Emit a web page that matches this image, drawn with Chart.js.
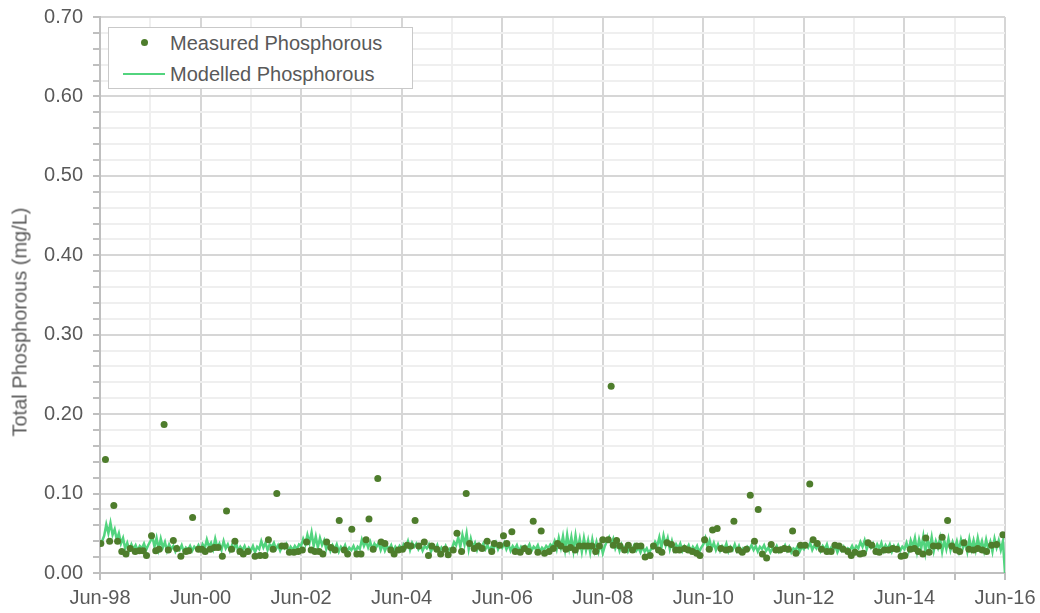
<!DOCTYPE html>
<html>
<head>
<meta charset="utf-8">
<script src="https://cdn.jsdelivr.net/npm/chart.js@4.4.1/dist/chart.umd.min.js"></script>
<style>
  body { margin: 0; background: #fff; font-family: "Liberation Sans", Arial, sans-serif; }
  #wrap { position: relative; width: 1040px; height: 613px; }
  #yTitle {
    position: absolute; left: 20px; top: 322px; color: #595959; font-size: 20px;
    transform: translate(-50%, -50%) rotate(-90deg); white-space: nowrap;
  }
  #legend {
    position: absolute; left: 108px; top: 27px; width: 303px; height: 60px;
    border: 1px solid #c9c9c9; background: #fff; color: #595959; font-size: 20px;
  }
  #legend .row { position: absolute; left: 0; height: 24px; line-height: 24px; }
  #legend .txt { position: absolute; left: 61px; white-space: nowrap; }
  #legend .dot { position: absolute; left: 32px; top: 8px; width: 7px; height: 7px; border-radius: 50%; }
  #legend .line { position: absolute; left: 14px; top: 11px; width: 42px; height: 2px; }
</style>
</head>
<body>
<div id="wrap">
  <canvas id="chart" width="1040" height="613"></canvas>
  <div id="yTitle">Total Phosphorous (mg/L)</div>
  <div id="legend"></div>
</div>
<script>
// months since Jun-98
const measuredMonth = [
  0.2, 1.3, 2.3, 3.3, 4.2, 5.2, 6.2, 7.2, 8.4, 9.4, 10.3, 11.1, 12.3, 13.3, 14.1, 15.3, 16.3, 17.5, 18.3, 19.3,
  20.5, 21.2, 22.1, 23.5, 24.3, 25.1, 26.3, 27.3, 28.2, 29.2, 30.2, 31.4, 32.2, 33.4, 34.2, 35.3, 37.0, 38.2, 39.4, 40.2,
  41.3, 42.2, 43.4, 44.2, 45.2, 46.3, 47.3, 48.3, 49.3, 50.4, 51.3, 52.3, 53.2, 54.1, 55.1, 56.1, 57.1, 58.3, 59.1, 60.1,
  61.3, 62.3, 63.5, 64.2, 65.2, 66.3, 67.1, 68.0, 69.4, 70.2, 71.2, 72.2, 73.3, 74.2, 75.2, 76.1, 77.4, 78.4, 79.2, 80.4,
  81.3, 82.4, 83.1, 84.3, 85.2, 86.3, 87.4, 88.2, 89.3, 90.3, 91.2, 92.4, 93.5, 94.1, 95.4, 96.3, 97.1, 98.3, 99.1, 100.3,
  101.3, 102.3, 103.4, 104.5, 105.3, 106.1, 107.2, 108.2, 109.2, 110.0, 111.2, 112.3, 113.4, 114.4, 115.5, 116.4, 117.4, 118.3, 119.2, 120.0,
  121.3, 122.0, 122.5, 123.3, 124.1, 125.2, 126.1, 127.1, 128.1, 129.1, 130.1, 131.3, 132.1, 133.3, 134.1, 135.3, 136.4, 137.4, 138.3, 139.5,
  140.4, 141.4, 142.4, 143.2, 144.3, 145.4, 146.2, 147.3, 148.2, 149.4, 150.3, 151.3, 152.4, 153.3, 154.3, 155.2, 156.2, 157.1, 158.1, 159.1,
  160.2, 161.3, 162.3, 163.3, 164.3, 165.3, 166.1, 167.2, 168.3, 169.4, 170.2, 171.2, 172.2, 173.5, 174.5, 175.4, 176.4, 177.4, 178.5, 179.3,
  180.2, 181.4, 182.2, 183.3, 184.2, 185.2, 186.0, 187.2, 188.2, 189.2, 190.2, 191.2, 192.1, 193.4, 194.4, 195.3, 196.4, 197.1, 197.9, 198.9,
  200.1, 201.0, 202.3, 203.3, 204.3, 205.2, 206.2, 207.4, 208.5, 209.5, 210.6, 211.6, 212.8, 214.0, 215.5
];
const measuredValue = [
  0.037, 0.143, 0.040, 0.085, 0.040, 0.027, 0.024, 0.031, 0.027, 0.028, 0.028, 0.022, 0.047, 0.028, 0.030, 0.187, 0.029, 0.041, 0.031, 0.021,
  0.027, 0.028, 0.070, 0.030, 0.030, 0.027, 0.030, 0.032, 0.032, 0.021, 0.078, 0.030, 0.040, 0.027, 0.024, 0.027, 0.021, 0.022, 0.022, 0.042,
  0.030, 0.100, 0.034, 0.034, 0.026, 0.026, 0.027, 0.029, 0.039, 0.029, 0.027, 0.027, 0.024, 0.039, 0.032, 0.029, 0.066, 0.029, 0.024, 0.055,
  0.024, 0.024, 0.042, 0.068, 0.030, 0.119, 0.039, 0.037, 0.029, 0.024, 0.029, 0.030, 0.035, 0.034, 0.066, 0.034, 0.039, 0.022, 0.034, 0.030,
  0.024, 0.030, 0.023, 0.029, 0.050, 0.027, 0.100, 0.037, 0.031, 0.034, 0.031, 0.040, 0.027, 0.037, 0.035, 0.047, 0.037, 0.052, 0.027, 0.026,
  0.031, 0.027, 0.065, 0.026, 0.053, 0.025, 0.027, 0.031, 0.037, 0.034, 0.030, 0.032, 0.029, 0.034, 0.034, 0.034, 0.034, 0.027, 0.034, 0.042,
  0.042, 0.235, 0.035, 0.041, 0.034, 0.029, 0.035, 0.029, 0.034, 0.034, 0.020, 0.022, 0.034, 0.029, 0.026, 0.038, 0.036, 0.029, 0.029, 0.031,
  0.029, 0.027, 0.025, 0.022, 0.042, 0.030, 0.054, 0.056, 0.031, 0.029, 0.030, 0.065, 0.029, 0.026, 0.030, 0.098, 0.040, 0.080, 0.024, 0.019,
  0.036, 0.029, 0.029, 0.031, 0.030, 0.053, 0.025, 0.035, 0.035, 0.112, 0.042, 0.037, 0.030, 0.027, 0.027, 0.035, 0.034, 0.030, 0.027, 0.022,
  0.026, 0.024, 0.025, 0.038, 0.035, 0.027, 0.026, 0.029, 0.029, 0.031, 0.030, 0.021, 0.022, 0.030, 0.031, 0.027, 0.024, 0.044, 0.026, 0.034,
  0.034, 0.045, 0.066, 0.034, 0.029, 0.027, 0.038, 0.030, 0.029, 0.031, 0.029, 0.027, 0.035, 0.036, 0.048
];

// modelled series, one value every half month from Jun-98 (one row per year)
const modelledStepMonths = 0.5;
const modelledValue = [
  0.036,0.040,0.047,0.061,0.050,0.063,0.048,0.055,0.042,0.050,0.037,0.044,0.031,0.038,0.029,0.036,0.030,0.035,0.028,0.034,0.031,0.037,0.029,0.035,
  0.040,0.046,0.033,0.044,0.030,0.043,0.032,0.039,0.028,0.036,0.030,0.034,0.027,0.033,0.029,0.035,0.027,0.032,0.029,0.034,0.028,0.033,0.030,0.035,
  0.029,0.036,0.031,0.042,0.033,0.038,0.030,0.043,0.032,0.037,0.029,0.040,0.031,0.036,0.028,0.035,0.030,0.038,0.027,0.033,0.029,0.034,0.027,0.032,
  0.028,0.034,0.026,0.033,0.030,0.040,0.032,0.038,0.029,0.036,0.033,0.038,0.030,0.035,0.028,0.034,0.031,0.036,0.027,0.033,0.029,0.034,0.030,0.036,
  0.034,0.043,0.036,0.048,0.038,0.051,0.034,0.046,0.032,0.044,0.035,0.041,0.030,0.038,0.028,0.035,0.030,0.036,0.027,0.033,0.029,0.035,0.027,0.032,
  0.029,0.034,0.027,0.033,0.030,0.042,0.034,0.040,0.032,0.039,0.030,0.037,0.033,0.038,0.029,0.036,0.028,0.034,0.030,0.035,0.027,0.033,0.029,0.034,
  0.030,0.036,0.032,0.040,0.029,0.038,0.033,0.037,0.030,0.035,0.028,0.034,0.031,0.036,0.027,0.033,0.029,0.035,0.026,0.032,0.028,0.034,0.027,0.031,
  0.031,0.039,0.035,0.045,0.033,0.048,0.036,0.050,0.030,0.043,0.032,0.038,0.029,0.036,0.031,0.037,0.030,0.035,0.028,0.034,0.031,0.038,0.030,0.036,
  0.032,0.038,0.030,0.036,0.028,0.034,0.030,0.035,0.027,0.033,0.029,0.034,0.031,0.036,0.028,0.033,0.030,0.035,0.027,0.032,0.029,0.034,0.031,0.036,
  0.033,0.040,0.030,0.044,0.032,0.046,0.029,0.048,0.031,0.045,0.028,0.047,0.030,0.043,0.027,0.044,0.029,0.041,0.026,0.042,0.028,0.039,0.027,0.038,
  0.025,0.034,0.040,0.045,0.036,0.043,0.031,0.038,0.028,0.036,0.030,0.034,0.027,0.033,0.029,0.035,0.028,0.032,0.026,0.033,0.027,0.031,0.025,0.030,
  0.031,0.039,0.034,0.045,0.032,0.047,0.035,0.044,0.030,0.040,0.029,0.036,0.031,0.037,0.028,0.034,0.030,0.035,0.027,0.033,0.029,0.034,0.026,0.032,
  0.036,0.044,0.033,0.041,0.031,0.038,0.029,0.036,0.028,0.034,0.030,0.037,0.027,0.033,0.029,0.036,0.028,0.034,0.026,0.031,0.028,0.033,0.030,0.035,
  0.029,0.034,0.027,0.033,0.030,0.035,0.028,0.032,0.026,0.031,0.029,0.034,0.027,0.032,0.030,0.035,0.028,0.033,0.026,0.031,0.029,0.034,0.027,0.033,
  0.030,0.036,0.032,0.038,0.029,0.035,0.031,0.037,0.028,0.034,0.030,0.036,0.027,0.032,0.029,0.034,0.026,0.032,0.028,0.033,0.027,0.031,0.029,0.034,
  0.028,0.034,0.031,0.039,0.033,0.041,0.030,0.038,0.032,0.037,0.029,0.036,0.031,0.038,0.028,0.035,0.030,0.036,0.027,0.034,0.029,0.035,0.028,0.033,
  0.030,0.038,0.028,0.041,0.033,0.044,0.027,0.042,0.031,0.046,0.026,0.043,0.030,0.045,0.028,0.040,0.032,0.044,0.027,0.041,0.030,0.043,0.029,0.039,
  0.031,0.040,0.028,0.042,0.032,0.039,0.027,0.043,0.030,0.041,0.029,0.044,0.031,0.040,0.028,0.042,0.030,0.039,0.027,0.043,0.032,0.041,0.029,0.040,
  0.000
];

const xTickLabels = ['Jun-98', 'Jun-00', 'Jun-02', 'Jun-04', 'Jun-06', 'Jun-08', 'Jun-10', 'Jun-12', 'Jun-14', 'Jun-16'];
const seriesNames = ['Measured Phosphorous', 'Modelled Phosphorous'];
const seriesColors = ['#4e7d2c', '#52d47e'];

const measuredPoints = measuredMonth.map((m, i) => ({ x: m, y: measuredValue[i] }));
const modelledPoints = modelledValue.map((v, i) => ({ x: i * modelledStepMonths, y: v }));

const isMajorY = v => Math.abs(v * 10 - Math.round(v * 10)) < 1e-6;
const isMajorX = v => Math.round(v) % 24 === 0;
const tickFont = { family: '"Liberation Sans", Arial, sans-serif', size: 20 };

const ctx = document.getElementById('chart').getContext('2d');
new Chart(ctx, {
  type: 'scatter',
  data: {
    datasets: [
      {
        label: seriesNames[0],
        data: measuredPoints,
        backgroundColor: seriesColors[0],
        borderColor: seriesColors[0],
        pointRadius: 3.5,
        pointBorderWidth: 0
      },
      {
        label: seriesNames[1],
        data: modelledPoints,
        showLine: true,
        borderColor: seriesColors[1],
        borderWidth: 2.5,
        pointRadius: 0,
        tension: 0
      }
    ]
  },
  options: {
    responsive: false,
    animation: false,
    layout: { padding: { top: 17, right: 35, bottom: 0, left: 0 } },
    plugins: {
      legend: { display: false },
      tooltip: { enabled: false }
    },
    scales: {
      x: {
        type: 'linear',
        min: 0,
        max: 216,
        afterFit: scale => { scale.height = 40; scale.paddingLeft = 0; scale.paddingRight = 0; },
        ticks: {
          stepSize: 12,
          autoSkip: false,
          maxRotation: 0,
          padding: 6,
          color: '#595959',
          font: tickFont,
          callback: v => isMajorX(v) ? xTickLabels[Math.round(v) / 24] : ''
        },
        grid: {
          color: c => isMajorX(c.tick.value) ? '#d6d6d6' : '#efefef',
          lineWidth: 2,
          tickLength: 7,
          tickColor: '#bfbfbf'
        },
        border: { color: '#bfbfbf', width: 2 }
      },
      y: {
        min: 0,
        max: 0.7,
        afterFit: scale => { scale.width = 100; scale.paddingTop = 0; scale.paddingBottom = 0; },
        ticks: {
          stepSize: 0.02,
          autoSkip: false,
          padding: 10,
          color: '#595959',
          font: tickFont,
          callback: v => isMajorY(v) ? v.toFixed(2) : ''
        },
        grid: {
          color: c => isMajorY(c.tick.value) ? '#d6d6d6' : '#efefef',
          lineWidth: 2,
          tickLength: 7,
          tickColor: '#bfbfbf'
        },
        border: { color: '#bfbfbf', width: 2 }
      }
    }
  }
});

document.getElementById('legend').innerHTML = `
  <div class="row" style="top:3px;width:100%">
    <span class="dot" style="background:${seriesColors[0]}"></span>
    <span class="txt">${seriesNames[0]}</span>
  </div>
  <div class="row" style="top:34px;width:100%">
    <span class="line" style="background:${seriesColors[1]}"></span>
    <span class="txt">${seriesNames[1]}</span>
  </div>
`;
</script>
</body>
</html>
